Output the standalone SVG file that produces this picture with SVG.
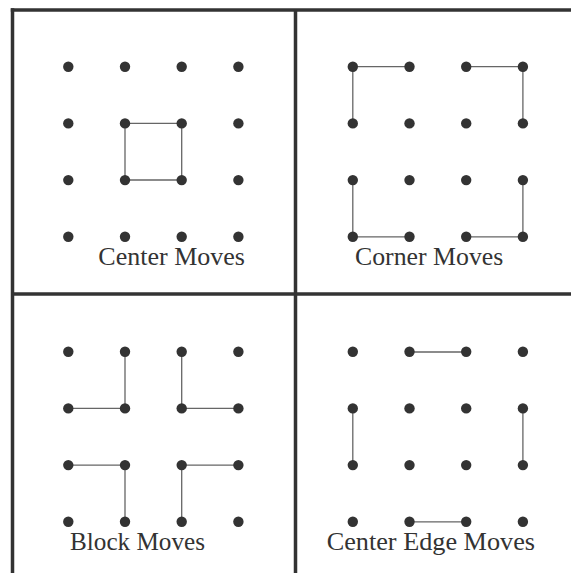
<svg xmlns="http://www.w3.org/2000/svg" width="571" height="573" viewBox="0 0 571 573">
<style>
.frame{stroke:#333;stroke-width:3.5;fill:none}
.dot{fill:#333}
.edge{stroke:#666;stroke-width:1.3;fill:none}
.lbl{font-family:"Liberation Serif","DejaVu Serif",serif;font-size:26px;fill:#333}
</style>
<defs>
<g id="grid">
<circle class="dot" cx="0" cy="0" r="5.2"/><circle class="dot" cx="56.7" cy="0" r="5.2"/><circle class="dot" cx="113.4" cy="0" r="5.2"/><circle class="dot" cx="170.1" cy="0" r="5.2"/>
<circle class="dot" cx="0" cy="56.7" r="5.2"/><circle class="dot" cx="56.7" cy="56.7" r="5.2"/><circle class="dot" cx="113.4" cy="56.7" r="5.2"/><circle class="dot" cx="170.1" cy="56.7" r="5.2"/>
<circle class="dot" cx="0" cy="113.4" r="5.2"/><circle class="dot" cx="56.7" cy="113.4" r="5.2"/><circle class="dot" cx="113.4" cy="113.4" r="5.2"/><circle class="dot" cx="170.1" cy="113.4" r="5.2"/>
<circle class="dot" cx="0" cy="170.1" r="5.2"/><circle class="dot" cx="56.7" cy="170.1" r="5.2"/><circle class="dot" cx="113.4" cy="170.1" r="5.2"/><circle class="dot" cx="170.1" cy="170.1" r="5.2"/>
</g>
</defs>
<rect width="571" height="573" fill="#fff"/>
<g id="frame">
<line class="frame" x1="10.8" y1="10" x2="571" y2="10"/>
<line class="frame" x1="12.5" y1="8.3" x2="12.5" y2="573"/>
<line class="frame" x1="295.5" y1="10" x2="295.5" y2="573"/>
<line class="frame" x1="12.5" y1="294" x2="571" y2="294"/>
</g>
<g id="connectors">
<path class="edge" d="M125,123.3H181.7V180H125Z"/>
<path class="edge" d="M409.5,66.7H352.8V123.4M466.2,66.7H522.9V123.4M352.8,180.1V236.8H409.5M522.9,180.1V236.8H466.2"/>
<path class="edge" d="M125,352V408.4H68.3M181.7,352V408.4H238.4M68.3,465.1H125V521.8M238.4,465.1H181.7V521.8"/>
<path class="edge" d="M409.5,352H466.2M352.8,408.4V465.1M522.9,408.4V465.1M409.5,521.8H466.2"/>
</g>
<g id="center-moves">
<use href="#grid" x="68.3" y="66.7"/>
<text class="lbl" x="98.3" y="265" textLength="146.7" lengthAdjust="spacingAndGlyphs">Center Moves</text>
</g>
<g id="corner-moves">
<use href="#grid" x="352.8" y="66.7"/>
<text class="lbl" x="355" y="265" textLength="148.3" lengthAdjust="spacingAndGlyphs">Corner Moves</text>
</g>
<g id="block-moves">
<use href="#grid" x="68.3" y="351.7"/>
<text class="lbl" x="70" y="550" textLength="135" lengthAdjust="spacingAndGlyphs">Block Moves</text>
</g>
<g id="center-edge-moves">
<use href="#grid" x="352.8" y="351.7"/>
<text class="lbl" x="326.7" y="550" textLength="208.3" lengthAdjust="spacingAndGlyphs">Center Edge Moves</text>
</g>
</svg>
